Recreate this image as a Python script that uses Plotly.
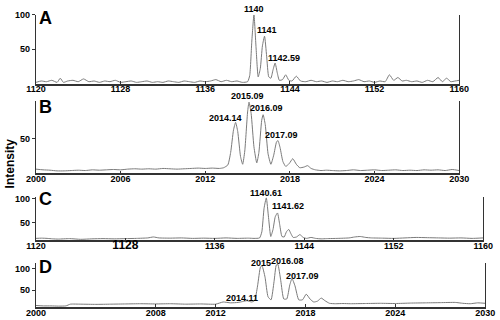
import plotly.graph_objects as go

# ---------------- data ----------------
A_x = [1120.0,1120.5,1121.0,1121.5,1122.0,1122.3,1122.6,1123.0,1123.5,1124.0,1124.5,1125.0,1125.5,1126.0,1126.5,
       1127.0,1127.5,1128.0,1128.5,1129.0,1129.5,1130.0,1130.5,1131.0,1131.5,1132.0,1132.5,1133.0,1133.5,1134.0,
       1134.5,1135.0,1135.5,1136.0,1136.5,1137.0,1137.5,1138.0,1138.5,1139.0,1139.5,1140.0,1140.2,1140.4,1140.6,
       1140.8,1141.0,1141.2,1141.4,1141.6,1141.8,1142.0,1142.2,1142.4,1142.6,1142.8,1143.0,1143.3,1143.6,1143.9,
       1144.2,1144.6,1145.0,1145.5,1146.0,1146.5,1147.0,1147.5,1148.0,1148.5,1149.0,1149.5,1150.0,1150.5,1151.0,
       1151.5,1152.0,1152.5,1153.0,1153.4,1153.8,1154.2,1154.6,1155.0,1155.5,1156.0,1156.5,1157.0,1157.5,1158.0,
       1158.4,1158.8,1159.2,1159.6,1160.0]
A_y = [2,4,3,5,2,8,2,4,5,3,7,3,4,2,4,
       3,5,2,3,4,2,3,4,2,3,2,4,3,2,4,
       3,2,4,3,4,6,3,5,3,4,2,3,12,62,100,
       52,10,22,55,69,40,10,8,20,30,16,5,6,13,5,
       4,11,4,3,5,3,4,2,4,3,5,3,4,6,3,
       4,2,4,3,13,5,9,4,5,3,4,2,5,3,9,
       3,8,3,4,5]

B_x = [2000,2000.5,2001,2001.5,2002,2002.5,2003,2003.5,2004,2004.5,2005,2005.5,2006,2006.5,2007,2007.5,
       2008,2008.5,2009,2009.5,2010,2010.5,2011,2011.5,2012,2012.5,2013,2013.3,2013.6,2013.8,2014.0,2014.15,
       2014.3,2014.5,2014.65,2014.8,2015.0,2015.1,2015.25,2015.45,2015.65,2015.8,2016.0,2016.1,2016.25,
       2016.45,2016.65,2016.85,2017.05,2017.15,2017.3,2017.5,2017.7,2017.95,2018.2,2018.45,2018.7,2019.0,
       2019.25,2019.5,2019.8,2020.2,2020.6,2021,2021.5,2022,2022.5,2023,2023.5,2024,2024.5,2025,2025.5,
       2026,2026.5,2027,2027.5,2028,2028.5,2029,2029.5,2030]
B_y = [6,5,4.5,3.5,3.5,4,4.5,4,5,4.5,5,5.5,5,6,6.5,6,
       6.5,6,7,6.5,6,6.5,7,7.5,7,7.5,7,8,12,30,62,73,
       60,24,13,32,88,102,86,38,15,30,76,84,70,
       28,13,26,45,47,37,17,10,14,21,13,8,9,
       11,7,5,4,4.5,4,3.5,4,5,4,4.5,5,4,4.5,5,
       4,4.5,4,5,4.5,5,4,5.5,4]

C_x = [1120,1120.5,1121,1121.5,1122,1123,1124,1125,1126,1127,1128,1129,1130,1130.5,1131,1132,1133,1134,
       1135,1136,1137,1138,1139,1139.5,1140.0,1140.2,1140.4,1140.6,1140.8,1141.0,1141.2,1141.4,1141.6,
       1141.8,1142.0,1142.2,1142.4,1142.6,1142.8,1143.0,1143.3,1143.6,1143.9,1144.2,1144.6,1145.0,1145.5,
       1146,1147,1148,1148.5,1149,1149.5,1150,1151,1152,1153,1154,1155,1156,1157,1158,1159,1160]
C_y = [16,16.5,16,15,14.5,15.5,14,15,15.5,15,15.5,16,17,19,17,16.5,17,16,
       16.5,16,17,16,16.5,16,17,30,80,102,60,20,35,62,70,
       45,20,19,30,35,26,18,19,24,18,16,18,16,15,
       15.5,16,17,19,20,18,17,16.5,16,17,18,17.5,17,16.5,17,16,17]

D_x = [2000,2000.5,2001,2001.5,2002,2002.3,2003,2004,2005,2006,2007,2008,2009,2010,2011,2012,2012.5,2013,
       2013.5,2013.8,2014.1,2014.4,2014.6,2014.8,2015.0,2015.1,2015.3,2015.5,2015.7,2015.9,2016.05,2016.15,
       2016.35,2016.55,2016.75,2016.95,2017.1,2017.3,2017.55,2017.8,2018.05,2018.3,2018.55,2018.8,2019.05,
       2019.3,2019.6,2020,2020.5,2021,2022,2023,2024,2025,2026,2027,2028,2028.5,2029,2029.5,2030]
D_y = [15,14,14,13.5,14,18,18,17.5,18,18.5,19,18.5,19,18,18.5,18,23,21,
       22,24,26,23,26,60,104,106,80,35,28,70,108,110,
       72,30,30,62,77,60,28,28,41,30,23,25,32,
       26,20,19,19.5,19,19.5,20,19.5,20.5,21,21.5,22,20,19,21,20]

# peak labels: (text, x, y) in data units of each panel
A_labels = [("1140", 1140.6, 108), ("1141", 1141.85, 78), ("1142.59", 1143.4, 38)]
B_labels = [("2014.14", 2013.4, 79), ("2015.09", 2014.97, 111), ("2016.09", 2016.33, 94), ("2017.09", 2017.41, 55)]
C_labels = [("1140.61", 1140.6, 112), ("1141.62", 1142.5, 85)]
D_labels = [("2015", 2015.06, 113), ("2016.08", 2016.8, 118), ("2017.09", 2017.82, 82), ("2014.11", 2013.78, 32)]

A_ticks = [1120, 1128, 1136, 1144, 1152, 1160]
B_ticks = [2000, 2006, 2012, 2018, 2024, 2030]
C_ticks = [1120, 1128, 1136, 1144, 1152, 1160]
D_ticks = [2000, 2008, 2012, 2018, 2024, 2030]
panel_letters = ["A", "B", "C", "D"]

assert len(A_x) == len(A_y) and len(B_x) == len(B_y) and len(C_x) == len(C_y) and len(D_x) == len(D_y)

# ---------------- figure ----------------
FONT = "Liberation Sans, Arial, sans-serif"
LINE = "#7a7a7a"
AX = "#333333"
H = 320

panels = [
    dict(x=A_x, y=A_y, labels=A_labels, ticks=A_ticks, xdom=[0.054, 0.936], ydom=[0.75, 0.96875],
         xr=[1120, 1160], yr=[0, 100], yt=[50, 100]),
    dict(x=B_x, y=B_y, labels=B_labels, ticks=B_ticks, xdom=[0.054, 0.936], ydom=[0.465625, 0.69375],
         xr=[2000, 2030], yr=[0, 103], yt=[50]),
    dict(x=C_x, y=C_y, labels=C_labels, ticks=C_ticks, xdom=[0.054, 0.986], ydom=[0.253125, 0.390625],
         xr=[1120, 1160], yr=[12, 104], yt=[50, 100]),
    dict(x=D_x, y=D_y, labels=D_labels, ticks=D_ticks, xdom=[0.054, 0.99], ydom=[0.040625, 0.18125],
         xr=[2000, 2030], yr=[11, 113], yt=[50, 100]),
]

fig = go.Figure()
layout = dict(width=500, height=320, margin=dict(l=0, r=0, t=0, b=0),
              paper_bgcolor="white", plot_bgcolor="white")
annotations = []

for i, p in enumerate(panels):
    n = "" if i == 0 else str(i + 1)
    fig.add_trace(go.Scatter(x=p["x"], y=p["y"], xaxis="x" + n, yaxis="y" + n, mode="lines",
                             line=dict(color=LINE, width=1, shape="spline", smoothing=0.5),
                             hoverinfo="skip", showlegend=False))
    ticktext = [str(t) for t in p["ticks"]]
    if i == 2:
        ticktext = [str(t) if t != 1128 else '<span style="font-size:12px">1128</span>' for t in p["ticks"]]
    layout["xaxis" + n] = dict(domain=p["xdom"], range=p["xr"], tickvals=p["ticks"], ticktext=ticktext,
                               anchor="y" + n, showline=True, linecolor=AX, linewidth=1.5, ticks="inside",
                               ticklen=3, tickcolor=AX, showgrid=False, zeroline=False, tickangle=0,
                               ticklabelstandoff=-4,
                               tickfont=dict(family=FONT, size=9, color="black", weight="bold"))
    layout["yaxis" + n] = dict(domain=p["ydom"], range=p["yr"], tickvals=p["yt"],
                               ticktext=[str(t) for t in p["yt"]], anchor="x" + n,
                               showline=True, mirror=True, linecolor=AX, linewidth=1, ticks="outside",
                               ticklen=3, tickcolor=AX, showgrid=False, zeroline=False,
                               tickfont=dict(family=FONT, size=9, color="black", weight="bold"))
    # label placement: keep anchor inside the axis range, shift the rest in pixels
    top = p["yr"][1]
    px_per_unit = (p["ydom"][1] - p["ydom"][0]) * H / (p["yr"][1] - p["yr"][0])
    for txt, lx, ly in p["labels"]:
        ay = min(ly, top)
        annotations.append(dict(text=txt, x=lx, y=ay, xref="x" + n, yref="y" + n, showarrow=False,
                                xanchor="center", yanchor="middle", yshift=(ly - ay) * px_per_unit,
                                font=dict(family=FONT, size=9, color="black", weight="bold")))

letter_pos = [0.959, 0.675, 0.383, 0.167]
for letter, py in zip(panel_letters, letter_pos):
    annotations.append(dict(text=letter, x=0.074, y=py, xref="paper", yref="paper", showarrow=False,
                            xanchor="center", yanchor="middle",
                            font=dict(family=FONT, size=18, color="black", weight="bold")))

annotations.append(dict(text="Intensity", x=0.0, y=0.497, xref="paper", yref="paper", showarrow=False,
                        textangle=-90, xanchor="center", yanchor="middle",
                        font=dict(family=FONT, size=12, color="black", weight="bold")))

layout["annotations"] = annotations
fig.update_layout(**layout)
fig.write_html("out.html")
